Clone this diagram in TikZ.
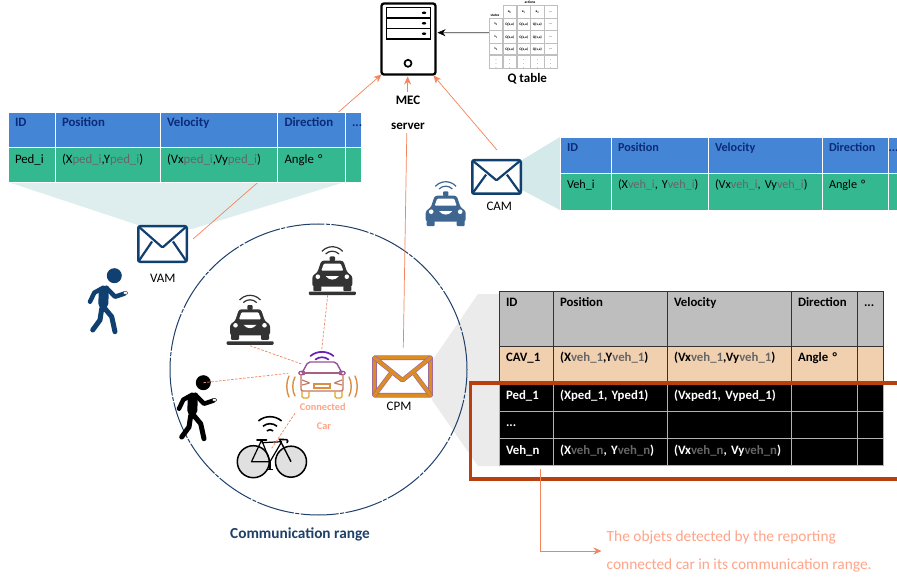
\documentclass[tikz,border=0pt]{standalone}
\usepackage{fontspec}
\setmainfont{Carlito}
\usepackage{amsmath}
\usetikzlibrary{arrows.meta}
\usetikzlibrary{calc}
\usetikzlibrary{shapes.geometric}

\definecolor{headblue}{HTML}{4585D6}
\definecolor{headtxt}{HTML}{0C2A78}
\definecolor{rowgreen}{HTML}{33B88F}
\definecolor{idgray}{HTML}{666666}
\definecolor{navyicon}{HTML}{10406F}
\definecolor{blueicon}{HTML}{3F6690}
\definecolor{darkicon}{HTML}{333333}
\definecolor{linkorange}{HTML}{F4845A}
\definecolor{noteorange}{HTML}{FFA488}
\definecolor{boxred}{HTML}{B8400F}
\definecolor{cpmorange}{HTML}{DB8C22}
\definecolor{cpmpurple}{HTML}{9A66A8}
\definecolor{rangeblue}{HTML}{1F4068}
\definecolor{graycell}{HTML}{BEBEBE}
\definecolor{peachcell}{HTML}{F1D0B0}
\definecolor{ccviolet}{HTML}{6A1FB5}
\definecolor{ccmauve}{HTML}{96509A}
\definecolor{ccrose}{HTML}{C67660}
\definecolor{ccamber}{HTML}{D98F45}
\definecolor{ccgold}{HTML}{E3A52B}

\newcommand{\idpart}[1]{\textcolor{idgray}{#1}}
\newcommand{\threedots}{...}
\newcommand{\flap}[2]{%
	\draw[#2, rounded corners=1pt] (#1.north west) -- ($(#1.south)!.4!(#1.north)$) -- (#1.north east);
	\draw[#2] (#1.south west) -- ($(#1.south west)!.57!(#1.north)$);
	\draw[#2] (#1.south east) -- ($(#1.south east)!.57!(#1.north)$);}

\tikzset{
	cell/.style={anchor=north west, outer sep=0pt, inner xsep=7pt, inner ysep=0pt, align=left, text height=15pt,
		font=\fontsize{12.8}{14}\selectfont},
	envelope/.style={draw=#1, line width=2.5pt, fill=white, rounded corners=2pt, outer sep=0pt, inner sep=0pt},
	cpmline/.style={draw=cpmpurple, double=cpmorange, double distance=3.4pt, line width=.6pt},
	link/.style={linkorange, line width=.7pt, -{Stealth[length=8pt,width=7pt]}},
	linkdash/.style={linkorange, line width=.7pt, dash pattern=on 2.5pt off 1.5pt},
	msglabel/.style={font=\fontsize{13}{15}\selectfont, inner sep=0pt},
	qcell/.style={draw=black!25, line width=.6pt, minimum width=13.5pt, minimum height=12.4pt, inner sep=0pt,
		font=\fontsize{3.6}{4}\selectfont\bfseries},
	pics/taxi/.style={code={
		\fill[#1, rounded corners=1pt] (-2.7,-.5) rectangle (2.7,4.3);
		\fill[#1, rounded corners=2.5pt] (-11,0) -- (11,0) -- (15,-12) -- (20,-15) -- (20,-26) -- (-20,-26) -- (-20,-15) -- (-15,-12) -- cycle;
		\fill[#1, rounded corners=1pt] (-19,-25) rectangle (-11,-30.5);
		\fill[#1, rounded corners=1pt] (11,-25) rectangle (19,-30.5);
		\fill[white, rounded corners=1pt] (-8.5,-3) -- (8.5,-3) -- (11,-10) -- (-11,-10) -- cycle;
		\fill[white] (-14.5,-16) circle (2.3);
		\fill[white] (14.5,-16) circle (2.3);
		\fill[white] (-6.5,-15.5) .. controls (-3,-20) and (3,-20) .. (6.5,-15.5) -- cycle;
		\draw[#1, line width=1.2pt] (42:14) arc (42:138:14);
		\draw[#1, line width=1.2pt] (45:9.5) arc (45:135:9.5);
	}},
	pics/walker/.style={code={
		\draw[#1, line width=10pt, line cap=round] (-10.5,-15.5) -- (-11,-28);
		\draw[#1, line width=7pt, line cap=round] (-11,-28) -- (-11,-33);
		\draw[#1, line width=4.5pt, line cap=round, line join=round] (-11,-12) -- (-20,-17) -- (-24.3,-26);
		\draw[#1, line width=4.5pt, line cap=round, line join=round] (-8,-12) -- (.7,-21) -- (10,-18);
		\draw[#1, line width=5pt, line cap=round, line join=round] (-12.6,-33) -- (-14.3,-44.3) -- (-21.6,-54.3);
		\draw[#1, line width=5pt, line cap=round, line join=round] (-9.3,-33) -- (-2.6,-41) -- (.7,-56);
		\draw[#1, line width=.5pt, fill=white, rounded corners=.5pt] (9,-16) rectangle (13,-18.5);
	}},
	pics/smartcar/.style={code={
		\draw[ccviolet, line width=1.7pt, line cap=round] (-11.5,24) .. controls (-5,29.5) and (5,29.5) .. (11.5,24);
		\draw[ccviolet, line width=1.7pt, line cap=round] (-6.5,20.5) .. controls (-3,23.5) and (3,23.5) .. (6.5,20.5);
		\draw[ccmauve, line width=1.4pt, rounded corners=2pt] (-20,7) -- (-14,18) -- (14,18) -- (20,7);
		\draw[ccmauve, line width=1.2pt] (-20,7) ellipse (3.2 and 1.8);
		\draw[ccmauve, line width=1.2pt] (20,7) ellipse (3.2 and 1.8);
		\draw[ccmauve!60!ccrose, line width=1.3pt] (-20,7) -- (20,7);
		\draw[ccrose, line width=1.4pt, rounded corners=2pt] (-21,6) -- (-21,-11) -- (21,-11) -- (21,6);
		\draw[ccamber, line width=1.2pt] (-8,-8) rectangle (8,-4);
		\draw[ccrose, line width=1.2pt, rounded corners=1pt] (-20,0) -- (-12,-3) -- (-20,-5);
		\draw[ccrose, line width=1.2pt, rounded corners=1pt] (20,0) -- (12,-3) -- (20,-5);
		\draw[ccgold, line width=1.4pt, rounded corners=1.5pt] (-20,-11) -- (-20,-18) -- (-13,-18) -- (-13,-11);
		\draw[ccgold, line width=1.4pt, rounded corners=1.5pt] (20,-11) -- (20,-18) -- (13,-18) -- (13,-11);
		\draw[ccamber, line width=1.4pt, line cap=round] (-27,3) .. controls (-30,-2) and (-30,-11) .. (-27,-16);
		\draw[ccamber, line width=1.4pt, line cap=round] (-33,4) .. controls (-36,-2) and (-36,-11) .. (-33,-17);
		\draw[ccamber, line width=1.4pt, line cap=round] (27,3) .. controls (30,-2) and (30,-11) .. (27,-16);
		\draw[ccamber, line width=1.4pt, line cap=round] (33,4) .. controls (36,-2) and (36,-11) .. (33,-17);
	}},
	pics/cycle/.style={code={
		\draw[black, fill=black!12, line width=1.5pt] (-16.7,0) circle (16);
		\draw[black, fill=black!12, line width=1.5pt] (21,0) circle (15.5);
		\draw[black, line width=1.2pt, line join=round] (-18.5,0) -- (0,0) -- (-8.3,21.7) -- cycle;
		\draw[black, line width=1.2pt, line join=round] (0,0) -- (11.7,20) -- (-8.3,19);
		\draw[black, line width=1.4pt] (9.5,22.5) -- (21,0);
		\draw[black, line width=1.6pt, rounded corners=1.5pt, line cap=round] (9.3,22.3) -- (18.3,22) -- (17,19);
		\draw[black, line width=1.8pt, line cap=round] (-13,22) -- (-3.5,22);
		\draw[black, line width=1.4pt] (0,0) -- (0,-8);
		\draw[black, line width=1.4pt] (-3,-8) -- (3,-8);
		\draw[black, line width=1.6pt] (50:18) ++(0,27) arc (50:130:18);
		\draw[black, line width=1.6pt] (50:11) ++(0,27) arc (50:130:11);
		\draw[black, line width=1.6pt] (50:5) ++(0,27) arc (50:130:5);
	}},
}

\begin{document}
\begin{tikzpicture}[x=1pt,y=1pt]
	\useasboundingbox (0,0) rectangle (897,-580);
	\fill[white] (0,0) rectangle (897,-580);

	% cones from the messages to their tables
	\fill[teal!13!white] (8,-182) -- (345,-182) -- (192,-229) -- (138,-225) -- cycle;
	\fill[teal!17!white] (560,-137) -- (560,-210) -- (522,-190) -- (522,-160) -- cycle;
	\fill[black!8] (499,-294) -- (478,-294) -- (432,-361) -- (432,-400) -- (478,-466) -- (499,-466) -- cycle;

	\node[draw=rangeblue, ellipse, line width=1pt, dash pattern=on 38pt off 1.5pt on 4pt off 1.5pt,
		minimum width=297pt, minimum height=291pt, inner sep=0pt] (range) at (318.5,-369.5) {};

	% server
	\node[draw, line width=2.3pt, rounded corners=2.5pt, minimum width=54pt, minimum height=71pt, inner sep=0pt, outer sep=0pt] (server) at (408.5,-39) {};
	\foreach \nm/\ry in {A/12.8, B/23.3, C/33.7} {
		\node[draw, line width=1.5pt, minimum width=44pt, minimum height=10.5pt, inner sep=0pt] (srvbar\nm) at (408.3,-\ry) {};
		\fill ($(srvbar\nm.east)+(-7,0)$) ellipse (2.2 and 1.3);
	}
	\node[draw, circle, line width=1.7pt, minimum size=7pt, inner sep=0pt] (srvled) at (408,-63.3) {};

	% messages
	\node[envelope=navyicon, minimum width=48.5pt, minimum height=35.5pt] (vam) at (162.5,-244) {};
	\flap{vam}{navyicon, line width=2.2pt}
	\node[envelope=navyicon, minimum width=48.5pt, minimum height=33.5pt] (cam) at (496.5,-177) {};
	\flap{cam}{navyicon, line width=2.2pt}
	\node[cpmline, fill=white, rounded corners=.5pt, outer sep=0pt, inner sep=0pt, minimum width=56pt, minimum height=37.5pt] (cpm) at (402.5,-376.5) {};
	\flap{cpm}{cpmline}

	\coordinate (vamout) at (193,-239);
	\coordinate (camout) at (497,-150);
	\coordinate (cpmout) at (403.3,-347.7);
	\draw[link] (vamout) -- (server.south west);
	\draw[link] (camout) -- ([xshift=-2pt,yshift=-1pt]server.south east);
	\draw[link] (cpmout) -- (407.7,-76.5);

	\node[fill=white, align=center, inner sep=4pt, font=\fontsize{13}{25}\selectfont\bfseries] (mec) at (408,-112.5) {MEC\\server};

	% table of the VAM
	\foreach \nm/\cx/\tw/\ct in {a/8/33/ID, b/55/91/Position, c/160/103.5/Velocity, d/277.5/53.5/Direction, e/345/2/\threedots}
		\node[cell, fill=headblue, draw=white, line width=.8pt, text depth=20pt, text width=\tw pt, text=headtxt, font=\fontsize{12.8}{14}\selectfont\bfseries] (vamh\nm) at (\cx,-112) {\ct};
	\foreach \nm/\cx/\tw/\ct in {a/8/33/{Ped\_i}, b/55/91/{(X\idpart{ped\_i},Y\idpart{ped\_i})}, c/160/103.5/{(Vx\idpart{ped\_i},Vy\idpart{ped\_i})}, d/277.5/53.5/{Angle °}, e/345/2/{}}
		\node[cell, fill=rowgreen, draw=white, line width=.8pt, text height=16.5pt, text depth=18.5pt, text width=\tw pt] (vamr\nm) at (\cx,-147) {\ct};

	% table of the CAM
	\begin{scope}[every node/.style={cell, draw=white, line width=.8pt, font=\fontsize{12.2}{14}\selectfont}]
		\foreach \nm/\cx/\tw/\ct in {a/560/37/ID, b/611/83/Position, c/708/100/Velocity, d/822/52/Direction}
			\node[fill=headblue, text depth=21pt, text width=\tw pt, text=headtxt, font=\fontsize{12.2}{14}\selectfont\bfseries] (camh\nm) at (\cx,-137) {\ct};
		\foreach \nm/\cx/\tw/\ct in {a/560/37/{Veh\_i}, b/611/83/{(X\idpart{veh\_i}, Y\idpart{veh\_i})}, c/708/100/{(Vx\idpart{veh\_i}, Vy\idpart{veh\_i})}, d/822/52/{Angle °}}
			\node[fill=rowgreen, text height=16pt, text depth=21pt, text width=\tw pt] (camr\nm) at (\cx,-173) {\ct};
		\node[fill=headblue, inner xsep=0pt, text depth=21pt, text width=9pt, text=headtxt, font=\fontsize{12.2}{14}\selectfont\bfseries] (camhe) at (888,-137) {\hspace*{.5pt}\threedots};
		\node[fill=rowgreen, inner xsep=0pt, text depth=22pt, text width=9pt] (camre) at (888,-173) {};
	\end{scope}

	% table of the CPM
	\begin{scope}[every node/.style={cell, font=\fontsize{12.8}{14}\selectfont\bfseries, line width=1pt}]
		\foreach \nm/\cx/\tw/\ct in {a/499/40/ID, b/553/100/Position, c/667/110/Velocity, d/791/52/Direction, e/857/12/\threedots}
			\node[fill=graycell, draw=black!80, text depth=40pt, text width=\tw pt] (cpmh\nm) at (\cx,-291) {\ct};
		\foreach \nm/\cx/\tw/\ct in {a/499/40/{CAV\_1}, b/553/100/{(X\idpart{veh\_1},Y\idpart{veh\_1})}, c/667/110/{(Vx\idpart{veh\_1},Vy\idpart{veh\_1})}, d/791/52/{Angle °}, e/857/12/{}}
			\node[fill=peachcell, draw=black!80, text depth=22pt, text width=\tw pt] (cpmr\nm) at (\cx,-346) {\ct};
		\foreach \nm/\cx/\tw/\ct in {a/499/40/{Ped\_1}, b/553/100/{(Xped\_1, Yped1)}, c/667/110/{(Vxped1, Vyped\_1)}, d/791/52/{}, e/857/12/{}}
			\node[fill=black, draw=black!30, text=white, text height=16pt, text depth=12pt, text width=\tw pt] (objp\nm) at (\cx,-383) {\ct};
		\foreach \nm/\cx/\tw/\ct in {a/499/40/\threedots, b/553/100/{}, c/667/110/{}, d/791/52/{}, e/857/12/{}}
			\node[fill=black, draw=black!30, text=white, text depth=12pt, text width=\tw pt] (objd\nm) at (\cx,-411) {\ct};
		\foreach \nm/\cx/\tw/\ct in {a/499/40/{Veh\_n}, b/553/100/{(X\idpart{veh\_n}, Y\idpart{veh\_n})}, c/667/110/{(Vx\idpart{veh\_n}, Vy\idpart{veh\_n})}, d/791/52/{}, e/857/12/{}}
			\node[fill=black, draw=black!30, text=white, text height=16pt, text depth=11pt, text width=\tw pt] (objv\nm) at (\cx,-438) {\ct};
	\end{scope}
	\draw[boxred, line width=3.5pt] (897,-383) -- (470.5,-383) -- (470.5,-479) -- (897,-479);

	% note under the table
	\coordinate (objout) at (540.3,-469);
	\node[anchor=west, align=left, inner sep=0pt, text=noteorange, font=\fontsize{15.4}{28}\selectfont] (note) at (606.5,-551) {The objets detected by the reporting\\connected car in its communication range.};
	\draw[link, line width=.8pt] (objout) |- ([xshift=-5pt]note.west);

	% road users
	\pic at (445.7,-195.7) {taxi=blueicon};
	\pic at (332.3,-260.7) {taxi=darkicon};
	\pic at (250,-309.3) {taxi=darkicon};
	\node[fill=darkicon, rounded corners=1pt, minimum width=47pt, minimum height=3.5pt, inner sep=0pt, outer sep=0pt] (carAbase) at (332.3,-293.3) {};
	\node[fill=darkicon, rounded corners=1pt, minimum width=47pt, minimum height=3.5pt, inner sep=0pt, outer sep=0pt] (carBbase) at (250,-343) {};
	\node[circle, fill=navyicon, minimum size=15pt, inner sep=0pt] (pedA) at (114.3,-275.7) {};
	\pic at (pedA) {walker=navyicon};
	\node[circle, fill=black, minimum size=15pt, inner sep=0pt] (pedB) at (203.3,-382.7) {};
	\pic at (pedB) {walker=black};
	\pic at (270,-461.7) {cycle};
	\coordinate (bikeN) at (271.7,-448.3);
	\pic at (322,-380) {smartcar};
	\coordinate (ccarN) at (321.7,-350);
	\coordinate (ccarNW) at (301.7,-364);
	\coordinate (ccarW) at (288.3,-373.3);
	\coordinate (ccarS) at (295,-413.3);
	\draw[linkdash] ([xshift=-4.6pt]carAbase.south) -- (ccarN);
	\draw[linkdash] ([yshift=-1pt]carBbase.south) -- (ccarNW);
	\draw[linkdash] (pedB.center) -- (ccarW);
	\draw[linkdash] (ccarS) -- (bikeN);

	\begin{scope}[every node/.style={inner sep=0pt, text=noteorange, font=\fontsize{10.3}{12}\selectfont\bfseries}]
		\node (ccarA) at (322.7,-406.7) {Connected};
		\node (ccarB) at (324,-425.7) {Car};
	\end{scope}

	\node[msglabel] (vamtxt) at (162.7,-278) {VAM};
	\node[msglabel] (camtxt) at (499.3,-206.7) {CAM};
	\node[msglabel] (cpmtxt) at (399,-406.7) {CPM};
	\node[inner sep=0pt, text=rangeblue, font=\fontsize{15.3}{17}\selectfont\bfseries] (rangetxt) at (300,-534) {Communication range};

	% Q table
	\foreach \c/\qx/\qt in {1/509.7/{$\mathbf{a_0}$}, 2/523.7/{$\mathbf{a_1}$}, 3/537.4/{$\mathbf{a_2}$}, 4/550.7/\threedots}
		\node[qcell] (qh\c) at (\qx,-12) {\qt};
	\foreach \r/\qy/\qt in {1/24.5/{$\mathbf{s_0}$}, 2/37/{$\mathbf{s_1}$}, 3/49.5/{$\mathbf{s_2}$}, 4/61.5/{$\vdots$}}
		\node[qcell] (qs\r) at (496,-\qy) {\qt};
	\foreach \r/\qy in {1/24.5, 2/37, 3/49.5} {
		\foreach \c/\qx in {1/509.7, 2/523.7, 3/537.4}
			\node[qcell] (q\r\c) at (\qx,-\qy) {Q(s,a)};
		\node[qcell] (q\r4) at (550.7,-\qy) {\threedots};
	}
	\foreach \c/\qx in {1/509.7, 2/523.7, 3/537.4, 4/550.7}
		\node[qcell] (q4\c) at (\qx,-61.5) {$\vdots$};
	\node[inner sep=0pt, font=\fontsize{3.6}{4}\selectfont\bfseries] (qact) at (530,-2.5) {actions};
	\node[inner sep=0pt, font=\fontsize{3.6}{4}\selectfont\bfseries] (qst) at (495,-15) {states};
	\node[inner sep=0pt, font=\fontsize{13}{15}\selectfont\bfseries] (qtxt) at (527.3,-79) {Q table};
	\draw[black!80, line width=.6pt, -{Stealth[black, length=8pt,width=7pt]}] ([yshift=-2.3pt]qs2.north west) -- ([xshift=2pt,yshift=6.3pt]server.east);
\end{tikzpicture}
\end{document}
